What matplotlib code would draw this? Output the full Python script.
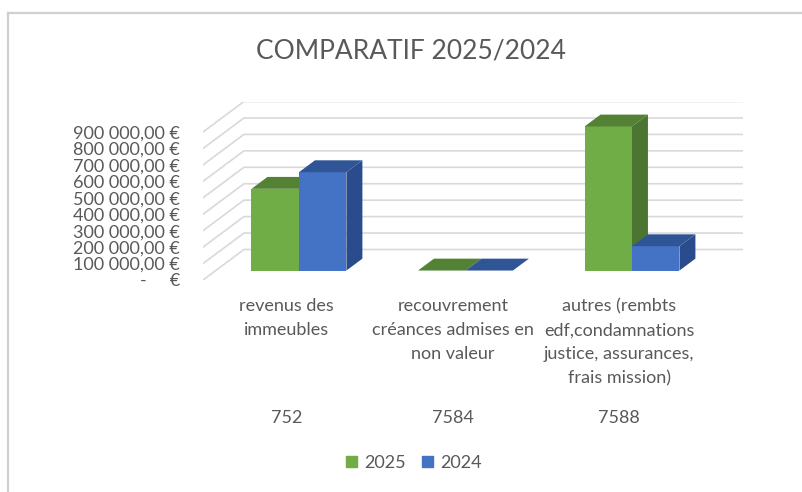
import matplotlib.pyplot as plt
from matplotlib.patches import Polygon, Patch
from matplotlib.lines import Line2D
from matplotlib.transforms import blended_transform_factory

plt.rcParams['font.family'] = ['Lato', 'DejaVu Sans']

# data
categories = ['revenus des\nimmeubles',
              'recouvrement\ncréances admises en\nnon valeur',
              'autres (rembts\nedf,condamnations\njustice, assurances,\nfrais mission)']
codes = ['752', '7584', '7588']
series_names = ['2025', '2024']
values_2025 = [497000, 0, 876000]
values_2024 = [598000, 0, 148000]
yticks = list(range(0, 900001, 100000))

face_cols = ['#70ad47', '#4472c4']
top_cols = ['#548235', '#2f5597']
side_cols = ['#4b7530', '#2b4c8c']
grey = '#595959'

# fake 3d: depth offset of the back wall in data units
DX = 0.246       # category units
DY = 185500      # value units
F0, F1 = 0.31, 0.70   # bar front / back depth fraction
W = 0.285        # bar width


def euro(v):
    if v == 0:
        return '-     €'
    return f'{v:,.2f}'.replace(',', ' ').replace('.', ',') + ' €'


def bar3d(ax, x0, w, v, face, top, side):
    xf, yf = x0 + F0 * DX, F0 * DY
    xb, yb = x0 + F1 * DX, F1 * DY
    ax.bar(xf, v, width=w, bottom=yf, align='edge', color=face, lw=0, zorder=3)
    ax.add_patch(Polygon([(xf, yf + v), (xf + w, yf + v), (xb + w, yb + v), (xb, yb + v)],
                         closed=True, facecolor=top, lw=0, zorder=3))
    ax.add_patch(Polygon([(xf + w, yf), (xb + w, yb), (xb + w, yb + v), (xf + w, yf + v)],
                         closed=True, facecolor=side, lw=0, zorder=3))


fig = plt.figure(figsize=(8.03, 4.92), dpi=100)
ax = fig.add_axes([203 / 803, 1 - 280 / 492, 540.5 / 803, 178.5 / 492])
ax.set_xlim(0, 3 + DX)
ax.set_ylim(0, 900000 + DY)
ax.patch.set_visible(False)
for s in ax.spines.values():
    s.set_visible(False)

# gridlines on side wall and back wall
for v in yticks:
    ax.plot([0, DX, 3 + DX], [v, v + DY, v + DY], color='#d9d9d9', lw=1.2, zorder=1)

n = len(categories)
for i in range(n):
    left = i + 0.5 - W
    for j, vals in enumerate([values_2025, values_2024]):
        bar3d(ax, left + j * W, W, vals[i], face_cols[j], top_cols[j], side_cols[j])

ax.set_yticks(yticks)
ax.set_yticklabels([euro(v) for v in yticks], fontsize=13, color=grey)
ax.tick_params(axis='y', length=0, pad=16.5)

ax.set_xticks([i + 0.5 for i in range(n)])
ax.set_xticklabels(categories, fontsize=13, color=grey, linespacing=1.62)
ax.tick_params(axis='x', length=0, pad=13)

tr = blended_transform_factory(ax.transData, fig.transFigure)
for i, c in enumerate(codes):
    ax.text(i + 0.5, 1 - 418 / 492, c, transform=tr, ha='center', va='center',
            fontsize=13, color=grey)

fig.text(411 / 803, 1 - 51 / 492, 'COMPARATIF 2025/2024', ha='center', va='center',
         fontsize=19, color=grey)

handles = [Patch(color=face_cols[k], label=series_names[k]) for k in range(2)]
fig.legend(handles=handles, loc='center', bbox_to_anchor=(414 / 803, 1 - 463 / 492),
           ncol=2, frameon=False, fontsize=13, labelcolor=grey,
           handlelength=0.6, handleheight=0.6, handletextpad=0.4, columnspacing=0.9)

# chart area border (top and left only visible)
fig.add_artist(Line2D([8 / 803, 1], [1 - 13 / 492, 1 - 13 / 492], color='#d0d0d0', lw=1.6))
fig.add_artist(Line2D([8 / 803, 8 / 803], [0, 1 - 13 / 492], color='#d0d0d0', lw=1.6))

fig.savefig('out.png', dpi=100)
